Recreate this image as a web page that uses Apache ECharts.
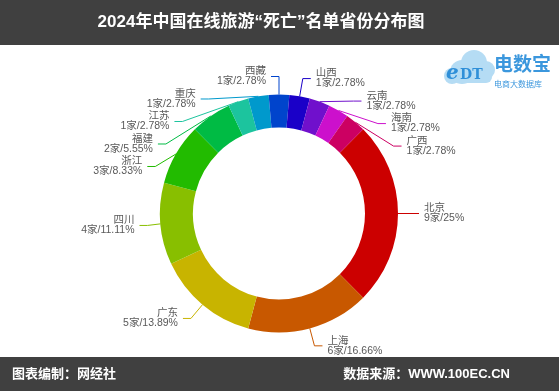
<!DOCTYPE html>
<html>
<head>
<meta charset="utf-8">
<script src="https://cdn.jsdelivr.net/npm/echarts@6/dist/echarts.min.js"></script>
<style>
html,body{margin:0;padding:0;background:#fff;}
#chart{width:559px;height:391px;}
</style>
</head>
<body>
<div id="chart"></div>
<script>
var provinces = ['北京','上海','广东','四川','浙江','福建','江苏','重庆','西藏','山西','云南','海南','广西'];
var counts = [9,6,5,4,3,2,1,1,1,1,1,1,1];
var pctLabels = ['25%','16.66%','13.89%','11.11%','8.33%','5.55%','2.78%','2.78%','2.78%','2.78%','2.78%','2.78%','2.78%'];
var colors = ['#cc0000','#c85800','#c8b400','#88bf00','#22bb00','#00bb44','#1cc49e','#0099cc','#0044cc','#1a00c8','#7010cc','#cc10cc','#cc0062'];

var chart = echarts.init(document.getElementById('chart'));
var cjk = '"Liberation Sans","Noto Sans CJK SC",sans-serif';
var data = provinces.map(function(p,i){
  return {name:p, value:counts[i], pct:pctLabels[i], itemStyle:{color:colors[i]}};
});
chart.setOption({
  animation:false,
  backgroundColor:'#ffffff',
  graphic:[
    {type:'rect', shape:{x:0,y:0,width:559,height:45}, style:{fill:'#404040'}, z:0},
    {type:'rect', shape:{x:0,y:357,width:559,height:34}, style:{fill:'#404040'}, z:0},
    {type:'text', x:261, y:22, style:{text:'2024年中国在线旅游“死亡”名单省份分布图', fill:'#ffffff', font:'bold 17px '+cjk, textAlign:'center', textVerticalAlign:'middle'}, z:2},
    {type:'text', x:12, y:374, style:{text:'图表编制：网经社', fill:'#ffffff', font:'bold 13px '+cjk, textAlign:'left', textVerticalAlign:'middle'}, z:2},
    {type:'text', x:510, y:374, style:{text:'数据来源：WWW.100EC.CN', fill:'#ffffff', font:'bold 13px '+cjk, textAlign:'right', textVerticalAlign:'middle'}, z:2},
    {type:'group', z:2, children:[
      {type:'circle', shape:{cx:462,cy:72,r:12}, style:{fill:'#b5dcf4'}},
      {type:'circle', shape:{cx:474,cy:63,r:13}, style:{fill:'#b5dcf4'}},
      {type:'circle', shape:{cx:486,cy:70,r:9}, style:{fill:'#b5dcf4'}},
      {type:'circle', shape:{cx:452,cy:76,r:8}, style:{fill:'#b5dcf4'}},
      {type:'rect', shape:{x:452,y:70,width:40,height:13,r:6}, style:{fill:'#b5dcf4'}},
      {type:'text', x:446, y:74, style:{text:'e', fill:'#2f8fd8', font:'bold italic 20px "DejaVu Serif",serif', textVerticalAlign:'middle'}},
      {type:'text', x:460, y:75, style:{text:'DT', fill:'#2f8fd8', font:'bold 14px "DejaVu Serif",serif', textVerticalAlign:'middle'}},
      {type:'text', x:494, y:66, style:{text:'电数宝', fill:'#3b97dd', font:'bold 19px '+cjk, textVerticalAlign:'middle'}},
      {type:'text', x:494, y:85, style:{text:'电商大数据库', fill:'#3b97dd', font:'8px '+cjk, textVerticalAlign:'middle'}}
    ]}
  ],
  series:[{
    type:'pie',
    center:[279,213.5],
    radius:[86,119],
    startAngle:45,
    clockwise:true,
    avoidLabelOverlap:true,
    data:data,
    label:{
      show:true,
      position:'outside',
      color:'#595959',
      fontSize:10.5,
      lineHeight:10,
      fontFamily:cjk,
      formatter:function(p){ return p.name + '\n' + p.value + '家/' + p.data.pct; }
    },
    labelLine:{show:true, length:18, length2:8, lineStyle:{width:1}},
    emphasis:{disabled:true}
  }]
});
</script>
</body>
</html>
